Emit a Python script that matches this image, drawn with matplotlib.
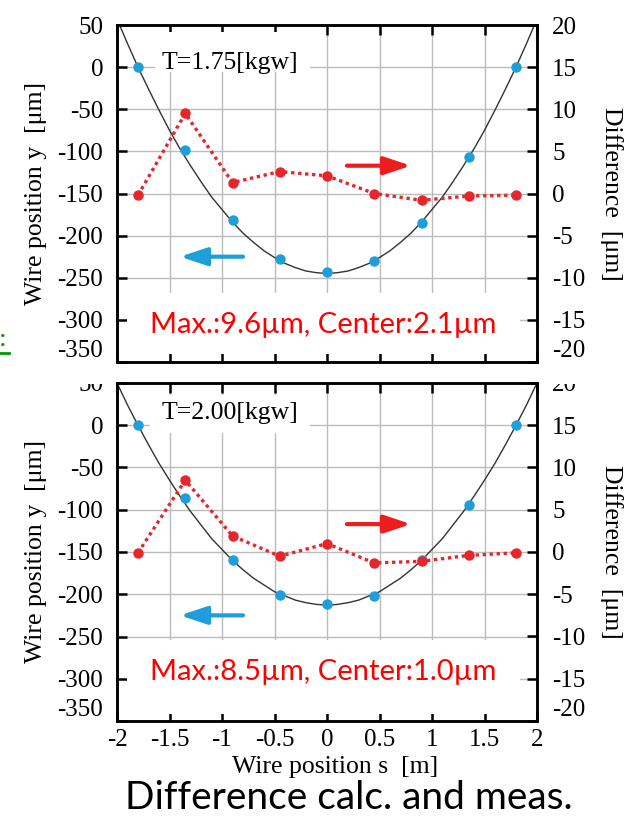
import matplotlib
matplotlib.use("Agg")
import matplotlib.pyplot as plt
from matplotlib.patches import Rectangle
from matplotlib.lines import Line2D

# ---------------- data ----------------
s_meas = [-1.8, -1.35, -0.9, -0.45, 0.0, 0.45, 0.9, 1.35, 1.8]
s_calc = [-2.0, -1.9, -1.8, -1.7, -1.6, -1.5, -1.4, -1.3, -1.2, -1.1, -1.0,
          -0.9, -0.8, -0.7, -0.6, -0.5, -0.4, -0.3, -0.2, -0.1, 0.0,
          0.1, 0.2, 0.3, 0.4, 0.5, 0.6, 0.7, 0.8, 0.9, 1.0,
          1.1, 1.2, 1.3, 1.4, 1.5, 1.6, 1.7, 1.8, 1.9, 2.0]

# T = 1.75 kgw
y_meas_175 = [0, -98, -182, -228, -243, -230, -185, -107, 0]
y_calc_175 = [57, 28, 0, -26, -51, -75, -97, -117, -136, -154, -169,
              -184, -197, -208, -218, -226, -233, -238, -242, -244, -245,
              -244, -242, -238, -233, -226, -218, -208, -197, -184, -169,
              -154, -136, -117, -97, -75, -51, -26, 0, 28, 57]
diff_175 = [-0.2, 9.5, 1.3, 2.6, 2.1, 0.0, -0.8, -0.3, -0.2]

# T = 2.00 kgw
y_meas_200 = [0, -86, -160, -201, -212, -202, -160, -94, 0]
y_calc_200 = [50, 24, 0, -23, -45, -65, -84, -102, -118, -134, -147,
              -160, -171, -181, -189, -197, -202, -207, -210, -212, -213,
              -212, -210, -207, -202, -197, -189, -181, -171, -160, -147,
              -134, -118, -102, -84, -65, -45, -23, 0, 24, 50]
diff_200 = [-0.1, 8.5, 1.9, -0.5, 1.0, -1.3, -1.1, -0.4, -0.1]

titles = ["T=1.75[kgw]", "T=2.00[kgw]"]
notes = ["Max.:9.6\u00b5m, Center:2.1\u00b5m", "Max.:8.5\u00b5m, Center:1.0\u00b5m"]
x_ticks = [-2, -1.5, -1, -0.5, 0, 0.5, 1, 1.5, 2]
x_ticklabels = ["-2", "-1.5", "-1", "-0.5", "0", "0.5", "1", "1.5", "2"]
yl_ticks = [-350, -300, -250, -200, -150, -100, -50, 0, 50]
yr_ticks = [-20, -15, -10, -5, 0, 5, 10, 15, 20]

BLUE = "#1e9fdc"
RED = "#e5262b"
SERIF = "Liberation Serif"

fig = plt.figure(figsize=(6.32, 8.16), dpi=100)

W, H = 632, 816
def fr(x0, y0, x1, y1):
    # pixel box -> figure fraction rect
    return [x0 / W, 1 - y1 / H, (x1 - x0) / W, (y1 - y0) / H]

ax_rects = [fr(117, 25, 537, 362), fr(117, 383, 537, 721)]
mask_rects = [(0.024, 0.024, 0.936, 0.181), (0.024, 0.02, 0.936, 0.22)]
tbox_rects = [(0.09, 0.86, 0.37, 0.118), (0.079, 0.852, 0.38, 0.113)]
title_y = [0.887, 0.911]
note_y = [0.11, 0.145]

panels = [(y_meas_175, y_calc_175, diff_175), (y_meas_200, y_calc_200, diff_200)]

for i, (ym, yc, dd) in enumerate(panels):
    ax = fig.add_axes(ax_rects[i])
    ax.set_axisbelow(True)
    ax.set_xlim(-2, 2)
    ax.set_ylim(-350, 50)
    ax.set_xticks(x_ticks)
    ax.set_yticks(yl_ticks)
    ax.set_yticklabels([str(v) for v in yl_ticks], fontfamily=SERIF, fontsize=18)
    ax.grid(True, color="#bcbcbc", lw=1.0)
    ax.tick_params(axis="both", direction="in", length=7, width=1.8,
                   top=True, right=False, pad=10)
    for sp in ax.spines.values():
        sp.set_linewidth(1.8)
    if i == 0:
        ax.tick_params(axis="x", labelbottom=False)
    else:
        ax.set_xticklabels(x_ticklabels, fontfamily=SERIF, fontsize=18)
        ax.tick_params(axis="x", pad=6)
        ax.set_xlabel("Wire position s  [m]", fontfamily=SERIF, fontsize=18.5)
        ax.xaxis.set_label_coords(0.52, -0.105)
    ax.get_yticklabels()[0].set_va("bottom")

    ax.set_ylabel("Wire position y  [\u03bcm]", fontfamily=SERIF, fontsize=18.5)
    ax.yaxis.set_label_coords(-0.167, 0.5)

    # white masks
    ax.add_patch(Rectangle(mask_rects[i][:2], mask_rects[i][2], mask_rects[i][3],
                           transform=ax.transAxes, facecolor="white",
                           edgecolor="none", zorder=1))
    ax.add_patch(Rectangle(tbox_rects[i][:2], tbox_rects[i][2], tbox_rects[i][3],
                           transform=ax.transAxes, facecolor="white",
                           edgecolor="none", zorder=1))

    ax.plot(s_calc, yc, color="#333333", lw=1.0, zorder=2)
    ax.plot(s_meas, ym, "o", color=BLUE, ms=7.5, mec="none", zorder=3)

    ax.text(0.107, title_y[i], titles[i], transform=ax.transAxes,
            fontfamily=SERIF, fontsize=18.5, va="center", ha="left", zorder=4)
    ax.text(0.492, note_y[i], notes[i], transform=ax.transAxes,
            fontfamily="Lato", fontsize=21, color="#ff0000",
            va="center", ha="center", zorder=4)

    ax.annotate("", xy=(-1.4, -225), xytext=(-0.8, -225),
                arrowprops=dict(arrowstyle="-|>,head_length=0.9,head_width=0.3",
                                color=BLUE, lw=3, mutation_scale=18,
                                shrinkA=0, shrinkB=0), zorder=4)
    ax.annotate("", xy=(0.8, -117), xytext=(0.19, -117),
                arrowprops=dict(arrowstyle="-|>,head_length=0.9,head_width=0.3",
                                color="#ee1c1c", lw=3, mutation_scale=18,
                                shrinkA=0, shrinkB=0), zorder=4)

    ax2 = ax.twinx()
    ax2.set_ylim(-20, 20)
    ax2.set_yticks(yr_ticks)
    ax2.set_yticklabels([str(v) for v in yr_ticks], fontfamily=SERIF, fontsize=18)
    ax2.tick_params(axis="y", direction="in", length=7, width=1.8, pad=11)
    for sp in ax2.spines.values():
        sp.set_linewidth(1.8)
    ax2.get_yticklabels()[0].set_va("bottom")
    ax2.plot(s_meas, dd, color=RED, lw=2.4, ls=(0, (1, 1.1)), marker="o",
             ms=7.5, mec="none", zorder=3)
    ax2.set_ylabel("Difference  [\u03bcm]", fontfamily=SERIF, fontsize=18.5,
                   rotation=270, va="bottom", ha="center", rotation_mode="anchor")
    ax2.yaxis.set_label_coords(1.15, 0.5)

# white strips between panels (slide overlay hiding top of lower labels)
for x0, x1 in [(40, 115), (539, 600)]:
    fig.patches.append(Rectangle((x0 / W, 1 - 384 / H), (x1 - x0) / W, 20 / H,
                                 transform=fig.transFigure, facecolor="white",
                                 edgecolor="none", zorder=10))

# stray green mark at the left edge
fig.text(0.0, 1 - 346 / H, ":", color="#009900", fontsize=16, fontweight="bold",
         fontfamily="Lato", va="baseline", ha="left")
fig.lines.append(Line2D([0, 9 / W], [1 - 353 / H, 1 - 353 / H],
                        transform=fig.transFigure, color="#009900", lw=2))

# caption
fig.text(349 / W, 1 - 809 / H, "Difference calc. and meas.", fontfamily="Lato",
         fontsize=28, ha="center", va="baseline", color="black")

fig.savefig("out.png", dpi=100)
